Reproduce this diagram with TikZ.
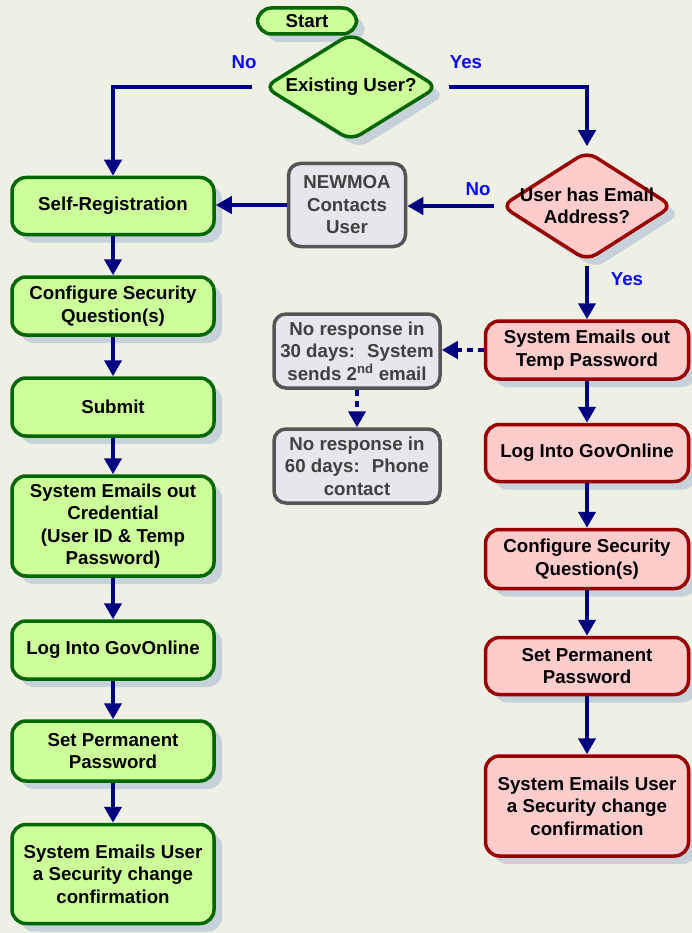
\documentclass[tikz,border=0pt]{standalone}
\usepackage{fontspec}
\setmainfont{Liberation Sans}
\usetikzlibrary{shapes.geometric,shadows,arrows.meta}
\definecolor{bgc}{RGB}{238,240,229}
\definecolor{gfill}{RGB}{204,255,153}
\definecolor{gline}{RGB}{0,102,0}
\definecolor{rfill}{RGB}{255,204,204}
\definecolor{rline}{RGB}{153,0,0}
\definecolor{gyfill}{RGB}{230,230,236}
\definecolor{gyline}{RGB}{85,85,85}
\definecolor{gytext}{RGB}{64,64,64}
\definecolor{navyc}{RGB}{0,0,128}
\definecolor{lblue}{RGB}{10,10,240}
\definecolor{shc}{RGB}{198,209,217}
\begin{document}
\begin{tikzpicture}[x=1pt,y=-1pt,
  txt/.style={font=\bfseries\fontsize{18.7}{22.5}\selectfont},
  shad/.style={drop shadow={shadow xshift=8pt,shadow yshift=-8pt,fill=shc,opacity=1}},
  box/.style={rectangle, rounded corners=14pt, line width=3.5pt, align=center, inner sep=0pt, txt, shad},
  gbox/.style={box, fill=gfill, draw=gline, minimum width=202pt},
  rbox/.style={box, fill=rfill, draw=rline, minimum width=203pt},
  graybox/.style={rectangle, rounded corners=12pt, line width=3.5pt, fill=gyfill, draw=gyline, text=gytext, align=center, inner sep=0pt, txt},
  dia/.style={diamond, rounded corners=11pt, line width=3.5pt, inner sep=0pt, align=center, txt, shad, minimum width=174pt, minimum height=108pt},
  conn/.style={draw=navyc, line width=4pt, -{Triangle[width=17pt,length=16pt]}},
  dconn/.style={conn, dash pattern=on 6pt off 5pt},
  lbl/.style={text=lblue, txt}
]
\fill[bgc] (0,0) rectangle (692,933);
\useasboundingbox (0,0) rectangle (692,933);

% top
\node[box, fill=gfill, draw=gline, minimum width=99pt, minimum height=26pt] (st) at (307,21) {Start};
\node[dia, fill=gfill, draw=gline] (d1) at (351,87) {\makebox[0pt]{Existing User?}};

% left column
\node[gbox, minimum height=57pt] (sr) at (113,206) {Self-Registration};
\node[gbox, minimum height=58pt] (cq) at (113,306) {Configure Security\\Question(s)};
\node[gbox, minimum height=58pt] (sb) at (113,407) {Submit};
\node[gbox, minimum height=100pt] (se) at (113,526) {System Emails out\\Credential\\(User ID \& Temp\\Password)};
\node[gbox, minimum height=58pt] (lg) at (113,650) {Log Into GovOnline};
\node[gbox, minimum height=60pt] (sp) at (113,751) {Set Permanent\\Password};
\node[gbox, minimum height=99pt] (sc) at (113,874) {System Emails User\\a Security change\\confirmation};

% right column
\node[dia, fill=rfill, draw=rline, minimum width=172pt, minimum height=110pt] (ue) at (587,206) {\makebox[0pt]{User has Email}\\\makebox[0pt]{Address?}};
\node[rbox, minimum height=58pt] (tp) at (587,350) {System Emails out\\Temp Password};
\node[rbox, minimum height=57pt] (ll) at (587,453) {Log Into GovOnline};
\node[rbox, minimum height=59pt] (rq) at (587,559) {Configure Security\\Question(s)};
\node[rbox, minimum height=57pt] (rp) at (587,666) {Set Permanent\\Password};
\node[rbox, minimum height=100pt] (rc) at (587,806) {System Emails User\\a Security change\\confirmation};

% gray boxes
\node[graybox, minimum width=117pt, minimum height=83pt] (nc) at (347,205) {NEWMOA\\Contacts\\User};
\node[graybox, minimum width=166pt, minimum height=74pt] (g30) at (357,351) {No response in\\30 days:~ System\\sends 2\textsuperscript{nd} email};
\node[graybox, minimum width=166pt, minimum height=74pt] (g60) at (357,466) {No response in\\60 days:~ Phone\\contact};

% connectors
\draw[conn, shorten <=10pt] (d1.west) -| (sr.north);
\draw[conn, shorten <=9pt, shorten >=3pt] (d1.east) -| (ue.north);
\draw[conn, shorten <=5pt] (ue.west) -- (ue.west -| nc.east);
\draw[conn] (nc.west) -- (nc.west -| sr.east);
\draw[conn, shorten <=3pt] (ue.south) -- (tp.north);
\draw[dconn] (tp.west) -- (tp.west -| g30.east);
\draw[dconn] (g30.south) -- (g60.north);

\draw[conn] (sr.south) -- (cq.north);
\draw[conn] (cq.south) -- (sb.north);
\draw[conn] (sb.south) -- (se.north);
\draw[conn] (se.south) -- (lg.north);
\draw[conn] (lg.south) -- (sp.north);
\draw[conn] (sp.south) -- (sc.north);

\draw[conn] (tp.south) -- (ll.north);
\draw[conn] (ll.south) -- (rq.north);
\draw[conn] (rq.south) -- (rp.north);
\draw[conn] (rp.south) -- (rc.north);

% labels
\node[lbl] (lno1) at (244,62) {No};
\node[lbl] (lyes1) at (466,62) {Yes};
\node[lbl] (lno2) at (478,189) {No};
\node[lbl] (lyes2) at (627,279) {Yes};
\end{tikzpicture}
\end{document}
